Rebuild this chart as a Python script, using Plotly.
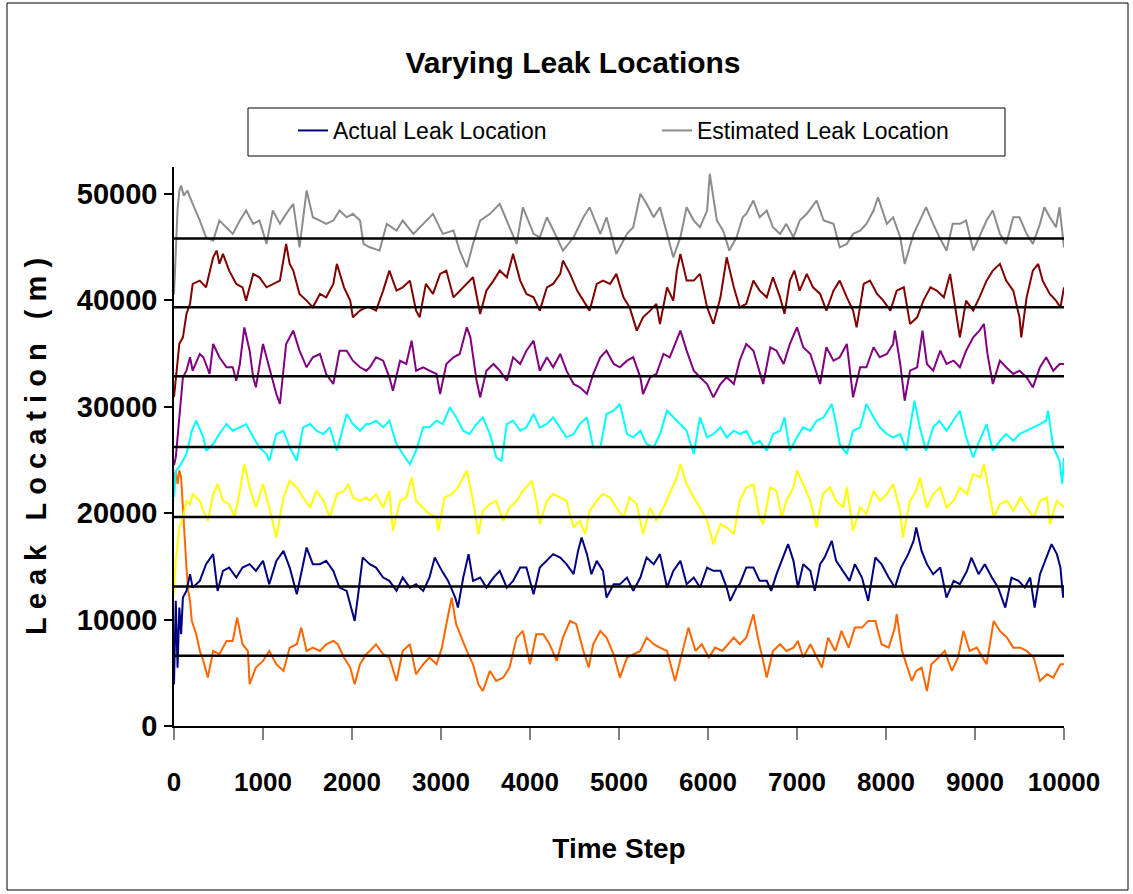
import plotly.graph_objects as go

# ---- estimated leak location, one series per leak (time step, metres) ----
orange_t = [0, 20, 40, 60, 80, 100, 120, 140, 160, 180, 200, 250, 290, 330, 380, 440, 510, 590, 660, 710,
            770, 830, 850, 920, 1000, 1070, 1150, 1230, 1300, 1380, 1430, 1490, 1560, 1640, 1710, 1790, 1840,
            1910, 1980, 2030, 2090, 2160, 2200, 2270, 2350, 2420, 2500, 2570, 2650, 2720, 2800, 2870, 2950,
            3010, 3060, 3120, 3170, 3230, 3290, 3360, 3420, 3470, 3550, 3620, 3700, 3770, 3850, 3920, 4000,
            4070, 4150, 4220, 4300, 4370, 4450, 4520, 4600, 4660, 4710, 4790, 4860, 4940, 5010, 5090, 5160,
            5240, 5310, 5390, 5460, 5540, 5630, 5710, 5780, 5860, 5930, 6010, 6080, 6160, 6230, 6290, 6356,
            6430, 6510, 6560, 6620, 6660, 6730, 6810, 6880, 6960, 7010, 7070, 7150, 7220, 7280, 7350, 7430,
            7500, 7580, 7650, 7730, 7800, 7880, 7950, 8030, 8100, 8120, 8180, 8230, 8290, 8340, 8400, 8460,
            8510, 8590, 8660, 8740, 8810, 8870, 8940, 9020, 9080, 9130, 9210, 9280, 9360, 9430, 9510, 9580,
            9660, 9730, 9810, 9880, 9960, 10000]
orange_v = [23000, 24000, 22720, 24000, 23340, 20210, 18020, 14890, 12690, 11750, 9870, 8620, 7050, 6110, 4550,
            7050, 6740, 7990, 7990, 10180, 7680, 7050, 3920, 5490, 6110, 7050, 5800, 5170, 7360, 7680, 9240,
            7050, 7360, 7050, 7680, 7990, 7680, 6430, 5490, 3920, 5800, 6740, 7050, 7680, 6740, 6430, 4230,
            7050, 7680, 4860, 5800, 6430, 5800, 7360, 9560, 12060, 9560, 8300, 7050, 5800, 3920, 3290, 5170,
            4230, 4550, 5490, 8300, 8930, 5800, 8620, 8620, 7680, 6110, 8300, 9870, 9560, 7050, 5490, 7680,
            8930, 8300, 6740, 4550, 6430, 6740, 7050, 8300, 7680, 7360, 7050, 4230, 7050, 9240, 7050, 7680,
            6430, 7360, 7050, 7680, 8300, 7680, 8300, 10500, 8300, 6110, 4550, 7050, 7680, 7050, 7360, 7990,
            6430, 7680, 6430, 5490, 8300, 7050, 8930, 7360, 9240, 9240, 9870, 9870, 7680, 7360, 9240, 10500,
            7050, 5800, 4230, 5170, 5490, 3290, 5800, 6430, 7050, 5170, 6430, 8930, 7050, 7360, 6430, 5800,
            9870, 8930, 8300, 7360, 7360, 7050, 6430, 4230, 4860, 4550, 5800, 5800]

navy_t = [0, 10, 20, 40, 60, 80, 100, 140, 180, 210, 290, 360, 440, 490, 550, 620, 700, 770, 850, 920, 1000,
          1070, 1150, 1230, 1300, 1380, 1450, 1490, 1560, 1640, 1710, 1790, 1860, 1940, 2010, 2030, 2070, 2120,
          2160, 2200, 2270, 2350, 2420, 2500, 2570, 2650, 2720, 2800, 2870, 2930, 3010, 3080, 3160, 3190, 3250,
          3310, 3360, 3440, 3510, 3590, 3660, 3740, 3810, 3890, 3960, 4040, 4110, 4190, 4260, 4340, 4410, 4490,
          4540, 4580, 4640, 4690, 4750, 4820, 4860, 4940, 5010, 5090, 5160, 5240, 5310, 5390, 5460, 5540, 5610,
          5690, 5760, 5840, 5910, 5990, 6060, 6140, 6210, 6250, 6320, 6356, 6430, 6510, 6580, 6660, 6710, 6770,
          6840, 6900, 6960, 7010, 7070, 7150, 7200, 7260, 7310, 7390, 7440, 7520, 7590, 7650, 7730, 7800, 7880,
          7950, 8030, 8100, 8170, 8250, 8310, 8340, 8400, 8460, 8530, 8610, 8680, 8760, 8830, 8910, 8960, 9040,
          9110, 9190, 9260, 9340, 9410, 9490, 9560, 9620, 9670, 9730, 9790, 9860, 9920, 9960, 9990, 10000]
navy_v = [3900, 9000, 11750, 5480, 11120, 8620, 12060, 12690, 14260, 13000, 13630, 15200, 16140, 12690, 14570,
          14880, 13940, 14880, 15200, 14570, 15510, 13320, 15510, 16450, 14880, 12380, 15200, 16760, 15200,
          15200, 15510, 14570, 13000, 12690, 10500, 9870, 12380, 15820, 15510, 15200, 14880, 13940, 13630,
          12690, 13940, 13000, 13320, 12690, 13940, 15820, 14570, 13630, 12060, 11120, 13940, 16140, 13630,
          13940, 13000, 13940, 14570, 13000, 13630, 14880, 14880, 12380, 14880, 15510, 16140, 15820, 15200,
          14260, 16450, 17700, 16140, 14260, 15510, 14570, 12060, 13320, 13320, 13940, 12690, 13940, 15820,
          15200, 16140, 13000, 14570, 15510, 13320, 13940, 13000, 14880, 14570, 14570, 13000, 11750, 13000,
          13320, 14880, 14880, 13630, 13630, 12690, 14260, 15820, 17080, 15510, 13000, 15200, 14570, 12690,
          15200, 15820, 17390, 15510, 14570, 13630, 15200, 13940, 11750, 15820, 15200, 13940, 13000, 14880,
          16140, 17390, 18640, 16450, 15200, 14260, 14880, 12060, 13630, 13320, 14570, 15820, 14260, 15200,
          13940, 13000, 11120, 13940, 13630, 13000, 13940, 11120, 14260, 15510, 17080, 16140, 14880, 12060,
          13000]

yellow_t = [0, 20, 60, 100, 140, 180, 210, 290, 330, 380, 440, 490, 550, 620, 680, 740, 790, 850, 920, 1000,
            1070, 1150, 1230, 1300, 1380, 1450, 1530, 1600, 1680, 1750, 1830, 1910, 1960, 2010, 2090, 2160, 2200,
            2270, 2350, 2420, 2460, 2540, 2610, 2670, 2720, 2800, 2870, 2950, 2970, 3040, 3120, 3190, 3290, 3360,
            3420, 3470, 3550, 3620, 3700, 3770, 3850, 3920, 4020, 4070, 4110, 4190, 4260, 4340, 4410, 4490, 4560,
            4620, 4670, 4750, 4820, 4900, 4970, 5050, 5120, 5200, 5270, 5350, 5420, 5500, 5570, 5650, 5690, 5760,
            5840, 5910, 5990, 6060, 6140, 6210, 6290, 6320, 6356, 6430, 6510, 6580, 6620, 6700, 6770, 6830, 6880,
            6960, 7000, 7070, 7150, 7220, 7290, 7370, 7440, 7520, 7560, 7630, 7710, 7780, 7860, 7930, 8010, 8080,
            8160, 8190, 8270, 8340, 8380, 8460, 8530, 8610, 8680, 8760, 8830, 8910, 8980, 9060, 9100, 9150, 9210,
            9280, 9360, 9430, 9510, 9580, 9660, 9730, 9810, 9840, 9920, 10000]
yellow_v = [12400, 15510, 18640, 19580, 21150, 20840, 21780, 21150, 20210, 19270, 21780, 22720, 21150, 20840,
            19580, 22090, 24600, 22400, 20520, 22720, 20520, 17700, 21460, 23030, 22400, 21460, 20520, 22090,
            21150, 19580, 21780, 22090, 22720, 21460, 21150, 21460, 21150, 21780, 20520, 22090, 18330, 21150,
            21460, 23340, 21150, 20520, 19900, 19580, 18330, 21460, 21780, 22400, 23970, 21150, 18020, 20210,
            20840, 21150, 19270, 20520, 21150, 22090, 23030, 21150, 18960, 21150, 21780, 21460, 21150, 18640,
            19270, 18020, 20210, 21150, 21780, 21460, 20520, 19580, 21460, 20840, 18020, 20520, 19270, 20520,
            21780, 23340, 24600, 22720, 21460, 20520, 19270, 17080, 18960, 18640, 18020, 19580, 21150, 22400,
            22720, 19580, 18960, 22400, 22090, 19580, 21150, 22400, 23970, 22720, 21150, 18640, 21780, 22400,
            21150, 20520, 22400, 18330, 20520, 19900, 22090, 21150, 21780, 22720, 20210, 17700, 21150, 22090,
            23340, 20520, 21780, 22400, 20520, 21150, 22400, 21780, 23660, 23340, 24600, 22400, 19580, 20840,
            21150, 20210, 21460, 20520, 19580, 21150, 21460, 18960, 21150, 20520]

cyan_t = [0, 20, 80, 140, 200, 250, 330, 360, 440, 510, 590, 660, 740, 810, 890, 960, 1040, 1070, 1150, 1230,
          1300, 1380, 1450, 1530, 1600, 1680, 1750, 1830, 1940, 2010, 2090, 2160, 2200, 2270, 2350, 2420, 2500,
          2570, 2650, 2720, 2800, 2870, 2950, 3020, 3100, 3170, 3250, 3320, 3400, 3470, 3550, 3620, 3680, 3740,
          3810, 3890, 3960, 4040, 4110, 4190, 4260, 4340, 4410, 4490, 4560, 4640, 4710, 4790, 4860, 4940, 5010,
          5090, 5160, 5240, 5310, 5390, 5460, 5540, 5610, 5690, 5760, 5840, 5910, 5990, 6060, 6140, 6210, 6290,
          6356, 6430, 6510, 6580, 6660, 6730, 6810, 6860, 6920, 7000, 7070, 7150, 7220, 7300, 7390, 7440, 7480,
          7560, 7630, 7710, 7780, 7860, 7930, 8010, 8080, 8160, 8230, 8270, 8320, 8380, 8450, 8530, 8600, 8680,
          8760, 8830, 8900, 8980, 9050, 9130, 9200, 9280, 9350, 9430, 9500, 9580, 9650, 9730, 9800, 9820, 9880,
          9950, 9980, 10000]
cyan_v = [21500, 23970, 24600, 25540, 27730, 28670, 27110, 25850, 26480, 27420, 28360, 27730, 28050, 28360,
          27110, 26170, 25540, 24910, 27420, 27730, 26170, 24910, 28050, 28360, 27730, 27420, 28050, 25850,
          29300, 28360, 27730, 28360, 28360, 28670, 28050, 28670, 26480, 25540, 24600, 25850, 28050, 28050,
          28670, 28360, 29930, 28990, 27730, 27420, 28360, 28990, 27420, 25230, 24910, 28360, 28670, 27730,
          28050, 29300, 28050, 28360, 28990, 28050, 27110, 27420, 28360, 28990, 26170, 26170, 29300, 29610,
          30240, 27420, 27110, 27730, 26480, 26170, 27420, 29610, 28990, 28360, 27730, 25540, 28990, 27110,
          27420, 28050, 27110, 27730, 27420, 27730, 26480, 26790, 25850, 27420, 27730, 28990, 25850, 27110,
          28050, 27730, 28670, 28990, 30240, 28360, 26480, 25540, 27730, 28050, 30240, 28990, 28050, 27420,
          27110, 27420, 25850, 28050, 30550, 28050, 25850, 28050, 28670, 27730, 28670, 29610, 27110, 25230,
          26790, 28360, 25850, 26790, 27420, 26790, 27420, 27730, 28050, 28360, 28670, 29610, 26170, 24910,
          22750, 25200]

purple_t = [0, 20, 60, 100, 140, 180, 210, 290, 330, 400, 440, 510, 590, 660, 700, 740, 790, 850, 890, 920,
            1000, 1070, 1150, 1190, 1260, 1340, 1410, 1490, 1560, 1640, 1710, 1790, 1860, 1940, 2010, 2090, 2160,
            2200, 2270, 2350, 2420, 2460, 2540, 2610, 2670, 2720, 2800, 2870, 2950, 2990, 3060, 3140, 3210, 3290,
            3330, 3400, 3440, 3510, 3590, 3660, 3740, 3810, 3890, 3960, 4040, 4110, 4190, 4260, 4340, 4410, 4490,
            4560, 4640, 4710, 4790, 4860, 4940, 5010, 5090, 5160, 5240, 5270, 5350, 5420, 5500, 5570, 5650, 5690,
            5760, 5840, 5910, 5990, 6060, 6140, 6210, 6290, 6356, 6430, 6510, 6580, 6620, 6700, 6770, 6850, 6920,
            7000, 7070, 7150, 7220, 7260, 7330, 7410, 7480, 7560, 7630, 7710, 7780, 7860, 7930, 8010, 8080, 8100,
            8160, 8210, 8270, 8350, 8410, 8460, 8530, 8610, 8680, 8760, 8830, 8900, 8980, 9050, 9100, 9140, 9200,
            9280, 9350, 9430, 9500, 9580, 9650, 9730, 9800, 9880, 9950, 10000]
purple_v = [24500, 25230, 28990, 32750, 33370, 34630, 33370, 34940, 34630, 33060, 35880, 34630, 33690, 33690,
            32430, 34000, 37440, 35250, 32750, 31810, 35880, 33690, 31180, 30240, 35880, 37130, 35250, 33690,
            34630, 34940, 33060, 32120, 35250, 35250, 34310, 33690, 33370, 33690, 34630, 34310, 32750, 31490,
            34310, 34000, 36190, 33370, 33690, 33370, 33060, 31180, 34000, 34630, 34940, 37440, 36500, 32430,
            30870, 33370, 34000, 33370, 32430, 34630, 34000, 35250, 36190, 33370, 34630, 33690, 34940, 33370,
            32120, 31810, 31180, 33060, 34630, 35250, 34000, 33690, 34310, 34630, 32750, 31180, 32750, 33060,
            34940, 34630, 36190, 37130, 35250, 33370, 32750, 32120, 30870, 32120, 32750, 32120, 34310, 35880,
            35250, 33370, 32120, 35570, 35250, 34000, 35880, 37440, 35570, 34940, 33060, 32120, 35570, 34310,
            34630, 35880, 30870, 33690, 33690, 35570, 34630, 34940, 35880, 37130, 34000, 30550, 33370, 33690,
            37130, 34000, 33370, 35250, 34000, 34310, 33690, 35250, 36500, 37130, 37760, 34940, 32120, 34310,
            33690, 33060, 33370, 32750, 31810, 33690, 34630, 33370, 34000, 34000]

maroon_t = [0, 30, 60, 100, 140, 180, 210, 290, 360, 440, 480, 510, 550, 620, 700, 770, 810, 890, 960, 1040,
            1110, 1190, 1260, 1300, 1340, 1410, 1490, 1560, 1640, 1710, 1790, 1830, 1910, 1980, 2010, 2090, 2160,
            2200, 2270, 2350, 2420, 2500, 2570, 2650, 2720, 2760, 2830, 2910, 2990, 3060, 3140, 3210, 3290, 3360,
            3440, 3510, 3590, 3660, 3740, 3810, 3890, 3960, 4040, 4110, 4190, 4260, 4340, 4370, 4450, 4530, 4600,
            4670, 4750, 4820, 4900, 4970, 5050, 5120, 5200, 5270, 5350, 5420, 5460, 5540, 5610, 5650, 5690, 5760,
            5840, 5910, 5990, 6060, 6140, 6210, 6290, 6356, 6430, 6510, 6580, 6660, 6730, 6810, 6860, 6920, 6970,
            7030, 7110, 7180, 7260, 7330, 7410, 7480, 7560, 7630, 7670, 7750, 7820, 7900, 7970, 8050, 8120, 8200,
            8270, 8350, 8420, 8500, 8570, 8650, 8720, 8780, 8830, 8900, 8980, 9050, 9130, 9200, 9280, 9350, 9430,
            9500, 9520, 9580, 9650, 9710, 9760, 9840, 9910, 9960, 10000]
maroon_v = [30900, 33500, 35900, 36500, 38700, 39640, 41520, 41830, 41200, 44020, 44650, 43400, 44340, 42770,
            41520, 41200, 39950, 42460, 42140, 41200, 41520, 41830, 45280, 43400, 42770, 40580, 39950, 39320,
            40580, 40260, 41520, 43400, 41200, 39950, 38380, 39010, 39320, 39320, 39010, 40890, 42770, 40890,
            41200, 41830, 39010, 38380, 41520, 40580, 42460, 42770, 40260, 40890, 41520, 42140, 38700, 40890,
            41830, 42770, 42140, 44340, 41830, 40580, 40260, 39010, 41200, 41520, 42460, 43710, 42460, 40890,
            39950, 39010, 41520, 41830, 41520, 42460, 40260, 39320, 37130, 38380, 39010, 39640, 37760, 41200,
            39950, 42770, 44340, 41830, 41830, 42460, 39320, 37760, 40260, 44020, 41200, 39320, 39640, 41830,
            40890, 40260, 42140, 40260, 38700, 41830, 42770, 40890, 42460, 41200, 40580, 39010, 40890, 41830,
            40260, 39010, 37440, 41520, 41830, 40580, 39950, 39010, 40890, 41200, 37760, 38380, 39950, 41200,
            40890, 40260, 42460, 39010, 36500, 39950, 39010, 40260, 41830, 42770, 43400, 41830, 40890, 38380,
            36500, 40260, 42770, 43400, 41830, 40580, 39950, 39320, 41200]

gray_t = [0, 20, 40, 60, 80, 110, 150, 210, 290, 360, 440, 510, 590, 660, 740, 810, 890, 960, 1040, 1110, 1190,
          1260, 1340, 1410, 1490, 1560, 1640, 1710, 1790, 1860, 1940, 2010, 2090, 2130, 2200, 2310, 2390, 2500,
          2570, 2690, 2800, 2910, 3020, 3140, 3210, 3290, 3360, 3440, 3550, 3660, 3770, 3850, 3920, 4040, 4110,
          4190, 4300, 4370, 4490, 4600, 4670, 4790, 4860, 4970, 5090, 5160, 5240, 5310, 5390, 5460, 5540, 5610,
          5690, 5760, 5840, 5910, 5990, 6020, 6100, 6170, 6240, 6320, 6390, 6430, 6510, 6580, 6660, 6730, 6810,
          6880, 6960, 7030, 7110, 7220, 7300, 7410, 7480, 7560, 7630, 7710, 7780, 7860, 7910, 8010, 8080, 8160,
          8210, 8310, 8380, 8450, 8530, 8600, 8680, 8750, 8830, 8900, 8980, 9050, 9130, 9200, 9280, 9350, 9430,
          9500, 9580, 9650, 9730, 9780, 9840, 9910, 9950, 10000]
gray_v = [40500, 44000, 48500, 50300, 50760, 49800, 50290, 49040, 47470, 45900, 45590, 47470, 46840, 46220,
          47470, 48410, 47160, 47470, 45280, 48410, 47160, 48100, 49040, 44960, 50290, 47780, 47470, 47160,
          47470, 48410, 47780, 48100, 47470, 45280, 44960, 44650, 47160, 46530, 47470, 46220, 47160, 48100,
          46220, 46530, 44650, 43080, 45280, 47470, 48100, 49040, 46840, 45280, 48720, 46220, 45900, 47780,
          45900, 44650, 45900, 47780, 48720, 46220, 47780, 44340, 46220, 46840, 49980, 49040, 47780, 48720,
          46220, 44020, 45900, 48720, 47470, 46840, 48410, 51860, 47470, 46530, 44650, 45900, 47780, 48100,
          49350, 47780, 48410, 46840, 46220, 47160, 45900, 47470, 48100, 49350, 47470, 47160, 44960, 45280,
          46220, 46530, 47160, 48410, 49660, 47160, 47780, 45900, 43400, 46220, 47470, 48720, 47160, 45900,
          44650, 47160, 47160, 47470, 44650, 45900, 47470, 48410, 46220, 45280, 47780, 47780, 46220, 45280,
          47160, 48720, 47780, 46840, 48720, 44960]

# ---- actual leak locations (m) ----
actual_locations = [6600, 13100, 19630, 26200, 32850, 39330, 45780]
time_span = [0, 10000]

x_ticks = list(range(0, 10001, 1000))
y_ticks = [0, 10000, 20000, 30000, 40000, 50000]

FONT = "Liberation Sans, Arial, Helvetica, sans-serif"

series = [
    (orange_t, orange_v, "#FF6600", None),
    (yellow_t, yellow_v, "#FFFF00", None),
    (cyan_t, cyan_v, "#00FFFF", None),
    (purple_t, purple_v, "#800080", None),
    (maroon_t, maroon_v, "#800000", None),
    (gray_t, gray_v, "#8C8C8C", "Estimated Leak Location"),
    (navy_t, navy_v, "#000080", "Actual Leak Location"),
]

fig = go.Figure()
for t, v, colour, name in series:
    fig.add_trace(go.Scatter(
        x=t, y=v, mode="lines",
        line=dict(color=colour, width=2),
        name=name if name else "",
        showlegend=name is not None,
        legendrank=1 if name == "Actual Leak Location" else 2,
        hoverinfo="skip",
    ))

for loc in actual_locations:
    fig.add_trace(go.Scatter(
        x=time_span, y=[loc, loc], mode="lines",
        line=dict(color="#000000", width=2.5),
        showlegend=False, hoverinfo="skip",
    ))

# plot area: x 174..1064 px, y 167..726 px
L, R, T, B = 174, 1064, 167, 726
W, H = 1133, 894
PW, PH = R - L, B - T


def px(x):
    return (x - L) / PW


def py(y):
    return (B - y) / PH


fig.update_layout(
    width=W, height=H,
    margin=dict(l=L, r=W - R, t=T, b=H - B, autoexpand=False),
    paper_bgcolor="white", plot_bgcolor="white",
    showlegend=True,
    title=dict(
        text="<b>Varying Leak Locations</b>",
        x=px(573), xanchor="center", xref="paper",
        y=1 - 62 / H, yanchor="middle", yref="container",
        font=dict(family=FONT, size=30, color="black"),
    ),
    legend=dict(
        orientation="h",
        x=px(249), xanchor="left",
        y=py(109), yanchor="top",
        borderwidth=0,
        bgcolor="rgba(0,0,0,0)",
        font=dict(family=FONT, size=23, color="black"),
        entrywidth=275, entrywidthmode="pixels",
        traceorder="normal",
        indentation=44,
    ),
    xaxis=dict(
        range=[0, 10000], tickvals=x_ticks, ticktext=[str(v) for v in x_ticks],
        showgrid=False, zeroline=False,
        showline=True, linecolor="black", linewidth=1.5,
        ticks="outside", ticklen=12, tickcolor="#808080", tickwidth=1.5,
        tickfont=dict(family=FONT, size=26, color="black", weight="bold"),
        tickangle=0,
        ticklabelstandoff=20,
        title=dict(text="<b>Time Step</b>", font=dict(family=FONT, size=28, color="black"), standoff=42),
    ),
    yaxis=dict(
        range=[0, 52500], tickvals=y_ticks, ticktext=[str(v) for v in y_ticks],
        showgrid=False, zeroline=False,
        showline=True, linecolor="black", linewidth=1.5,
        ticks="outside", ticklen=8, tickcolor="black", tickwidth=1.5,
        tickfont=dict(family=FONT, size=29, color="black", weight="bold"),
        ticklabelstandoff=1,
        title=dict(
            text="<b>L\u00a0e\u00a0a\u00a0k\u00a0\u00a0\u00a0L\u00a0o\u00a0c\u00a0a\u00a0t\u00a0i\u00a0o\u00a0n\u00a0\u00a0\u00a0(\u00a0m\u00a0)</b>",
            font=dict(family=FONT, size=29, color="black"), standoff=22,
        ),
    ),
    shapes=[
        # outer chart frame
        dict(type="rect", xref="paper", yref="paper",
             x0=px(7), x1=px(1128), y0=py(890), y1=py(3),
             line=dict(color="black", width=1), fillcolor="rgba(0,0,0,0)", layer="below"),
        # legend frame
        dict(type="rect", xref="paper", yref="paper",
             x0=px(248), x1=px(1005), y0=py(156), y1=py(108),
             line=dict(color="black", width=1), fillcolor="white", layer="below"),
    ],
)

fig.write_html("out.html")
